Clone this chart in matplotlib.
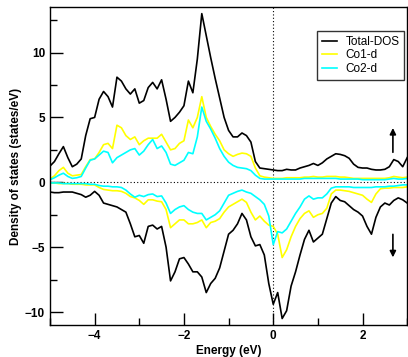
#!/usr/bin/env python3
# -*- coding: utf-8 -*-

import matplotlib.pyplot as plt

FILE_PLOT = "out.png"

# ---------------------------
#  Data (0.1 eV steps)
# ---------------------------

energy = [round(-5.0 + 0.1 * i, 1) for i in range(81)]

total_up = [
    1.25, 1.6, 2.2, 2.75, 1.9, 1.2, 1.4, 1.8, 3.6, 4.9,
    5.0, 6.4, 7.0, 6.6, 5.8, 8.1, 7.8, 7.2, 6.8, 7.2,
    6.1, 6.3, 7.3, 7.7, 7.2, 7.9, 6.4, 4.7, 5.0, 5.4,
    5.9, 7.8, 6.9, 9.5, 13.0, 11.3, 9.6, 8.0, 6.5, 5.0,
    4.0, 3.5, 3.5, 3.8, 3.6, 3.1, 1.6, 1.1, 1.05, 1.0,
    0.95, 0.9, 0.9, 1.0, 0.95, 0.95, 1.1, 1.2, 1.3, 1.45,
    1.3, 1.5, 1.8, 2.0, 2.2, 2.15, 2.05, 1.85, 1.4, 1.15,
    1.1, 1.1, 1.0, 0.95, 0.95, 1.0, 1.2, 1.75, 1.6, 1.2,
    1.9,
]
co1_up = [
    0.25, 0.5, 0.9, 1.15, 0.7, 0.5, 0.55, 0.6, 1.2, 1.75,
    1.8, 2.3, 2.9, 3.0, 2.6, 4.4, 4.2, 3.6, 3.3, 3.5,
    2.9, 3.2, 3.4, 3.4, 3.4, 3.7, 3.1, 2.5, 2.6, 3.0,
    3.2, 4.8, 4.2, 5.0, 6.6, 5.0, 4.3, 3.7, 3.2, 2.5,
    2.2, 2.0, 2.15, 2.25, 2.2, 2.0, 1.1, 0.5, 0.4, 0.35,
    0.3, 0.3, 0.3, 0.35, 0.35, 0.35, 0.35, 0.4, 0.4, 0.45,
    0.4, 0.4, 0.45, 0.45, 0.45, 0.4, 0.4, 0.35, 0.3, 0.3,
    0.3, 0.3, 0.3, 0.3, 0.3, 0.3, 0.35, 0.45, 0.4, 0.35,
    0.4,
]
co2_up = [
    0.2, 0.35, 0.55, 0.7, 0.45, 0.3, 0.35, 0.45, 1.1, 1.7,
    1.8, 2.1, 2.4, 2.3, 1.5, 1.9, 2.1, 2.3, 2.5, 2.6,
    2.1, 2.4, 2.9, 3.3, 2.6, 2.8, 2.3, 1.4, 1.3, 1.5,
    1.7, 2.3, 2.2, 3.5, 5.8, 4.7, 4.1, 3.4, 2.6, 2.0,
    1.55, 1.3, 1.15, 1.1, 1.05, 0.9, 0.55, 0.3, 0.25, 0.25,
    0.25, 0.25, 0.25, 0.25, 0.25, 0.25, 0.25, 0.3, 0.3, 0.3,
    0.3, 0.3, 0.3, 0.3, 0.3, 0.25, 0.25, 0.25, 0.25, 0.25,
    0.2, 0.2, 0.2, 0.2, 0.2, 0.2, 0.25, 0.3, 0.25, 0.25,
    0.3,
]
total_dn = [
    -0.75, -0.8, -0.8, -0.75, -0.75, -0.75, -0.85, -0.95, -1.15, -1.0,
    -0.7, -1.0, -1.6, -1.7, -1.8, -1.9, -2.1, -2.3, -3.2, -4.2,
    -4.1, -4.7, -3.4, -3.3, -3.6, -3.4, -5.0, -7.6, -6.9, -5.9,
    -5.8, -6.3, -6.9, -6.9, -7.3, -8.5, -7.8, -7.4, -6.6, -5.3,
    -4.0, -3.7, -3.2, -2.4, -2.9, -4.2, -4.9, -4.8, -5.6, -7.8,
    -9.4, -8.5, -10.5, -9.9, -8.0, -6.9, -5.6, -4.4, -3.7, -4.6,
    -4.3, -4.0, -2.8, -1.6, -1.1, -1.4, -1.5, -1.8, -2.1, -2.3,
    -2.6, -3.4, -4.0, -2.7, -1.9, -1.6, -1.75, -1.4, -1.2, -1.35,
    -1.6,
]
co1_dn = [
    -0.05, -0.05, -0.1, -0.1, -0.1, -0.15, -0.15, -0.15, -0.2, -0.2,
    -0.2, -0.4, -0.55, -0.6, -0.65, -0.65, -0.7, -0.85, -1.1, -1.2,
    -1.4, -1.7, -1.35, -1.35, -1.45, -1.5, -2.1, -3.5, -3.2, -2.9,
    -2.9, -3.2, -3.2, -3.1, -2.9, -3.5, -3.1, -3.0, -2.8, -2.3,
    -1.9, -1.7, -1.5, -1.3, -1.55, -2.3, -2.9, -2.6, -3.0, -3.3,
    -3.4, -4.0, -5.8, -5.2, -4.2, -3.4, -2.8, -2.4, -2.2, -2.7,
    -2.5, -2.4, -2.0, -0.9, -0.6, -0.6, -0.65, -0.7, -0.8, -0.9,
    -1.0, -1.3, -1.55, -0.9, -0.5, -0.45, -0.45, -0.4, -0.4, -0.4,
    -0.35,
]
co2_dn = [
    -0.05, -0.05, -0.05, -0.1, -0.1, -0.1, -0.1, -0.1, -0.1, -0.15,
    -0.15, -0.25, -0.3, -0.3, -0.35, -0.35, -0.4, -0.6, -0.9, -1.15,
    -1.0, -1.1, -0.95, -0.9, -1.1, -1.05, -1.6, -2.4, -2.1, -1.9,
    -1.8, -2.1, -2.3, -2.4, -2.4, -2.9, -2.7, -2.5, -2.2, -1.6,
    -1.0, -0.85, -0.7, -0.6, -0.75, -0.85, -1.1, -1.35, -1.7, -2.6,
    -4.8, -3.8, -3.9, -3.6, -3.0, -2.4, -1.9, -1.3, -1.05, -1.3,
    -1.2, -1.2, -0.9, -0.45, -0.35, -0.35, -0.35, -0.35, -0.4, -0.4,
    -0.4, -0.4, -0.4, -0.35, -0.35, -0.35, -0.3, -0.3, -0.25, -0.2,
    -0.2,
]

# ---------------------------
#  Plot
# ---------------------------

def main():
    plt.rcParams['font.family'] = ['Liberation Sans', 'DejaVu Sans']

    fig = plt.figure(figsize=(4.08, 3.57), dpi=100)
    ax = fig.add_axes([0.1225, 0.0896, 0.8755, 0.8904])

    # reference lines at E_F and zero
    ax.axhline(0, color='k', lw=0.8, ls=(0, (1, 2)))
    ax.axvline(0, color='k', lw=0.8, ls=(0, (1, 2)))

    ax.plot(energy, total_up, color='black', lw=1.2, label='Total-DOS')
    ax.plot(energy, co1_up, color='#ffff00', lw=1.2, label='Co1-d')
    ax.plot(energy, co2_up, color='#00ffff', lw=1.2, label='Co2-d')
    ax.plot(energy, total_dn, color='black', lw=1.2)
    ax.plot(energy, co1_dn, color='#ffff00', lw=1.2)
    ax.plot(energy, co2_dn, color='#00ffff', lw=1.2)

    # spin arrows
    arrow = dict(arrowstyle='-|>', color='black', lw=1.2, mutation_scale=9)
    ax.annotate('', xy=(2.68, 4.4), xytext=(2.68, 2.1), arrowprops=arrow)
    ax.annotate('', xy=(2.68, -6.0), xytext=(2.68, -3.8), arrowprops=arrow)

    ax.set_xlim(-5, 3)
    ax.set_ylim(-11, 13.5)
    ax.set_xticks([-4, -2, 0, 2])
    ax.set_xticks([-5, -3, -1, 1, 3], minor=True)
    ax.set_yticks([-10, -5, 0, 5, 10])
    ax.set_yticks([-7.5, -2.5, 2.5, 7.5, 12.5], minor=True)
    ax.tick_params(which='both', direction='in', top=False, right=False,
                   width=1.0, labelsize=8.5)
    ax.tick_params(which='major', length=9)
    ax.tick_params(which='minor', length=5)
    for lbl in ax.get_xticklabels() + ax.get_yticklabels():
        lbl.set_fontweight('bold')
    for s in ax.spines.values():
        s.set_linewidth(1.0)

    ax.set_xlabel('Energy (eV)', fontsize=8.5, fontweight='bold', labelpad=2)
    ax.set_ylabel('Density of states (states/eV)', fontsize=8.5,
                  fontweight='bold', labelpad=2)

    leg = ax.legend(loc='upper right', bbox_to_anchor=(0.992, 0.925),
                    fontsize=8.5, frameon=True, fancybox=False,
                    handlelength=1.3, handletextpad=0.7, labelspacing=0.15,
                    borderpad=0.4, borderaxespad=0)
    leg.get_frame().set_edgecolor('black')
    leg.get_frame().set_linewidth(1.0)

    fig.savefig(FILE_PLOT, dpi=100)
    print(f"[+] saved plot to {FILE_PLOT}")


if __name__ == "__main__":
    main()
